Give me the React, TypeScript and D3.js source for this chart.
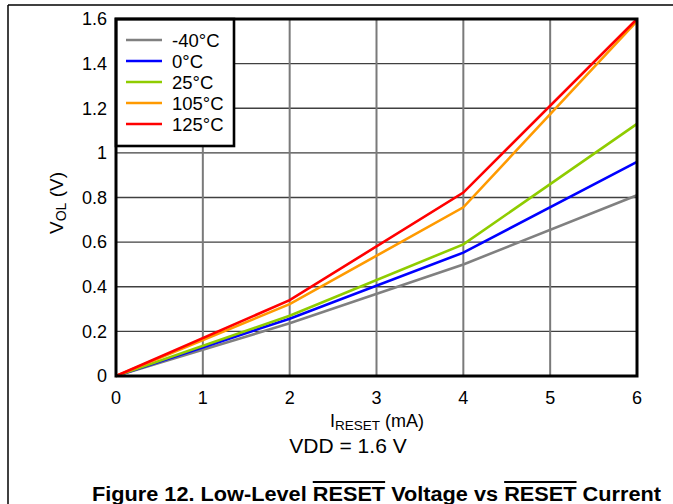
import React from "react";
import * as d3 from "d3";

const currents = [0, 2, 4, 6];
const seriesNames = ["-40°C", "0°C", "25°C", "105°C", "125°C"];
const seriesColors = ["#808080", "#0000ff", "#8fcc00", "#ff9a00", "#ff0000"];
const vM40 = [0, 0.236, 0.5, 0.81];
const v0 = [0, 0.257, 0.553, 0.96];
const v25 = [0, 0.27, 0.59, 1.13];
const v105 = [0, 0.322, 0.756, 1.59];
const v125 = [0, 0.34, 0.822, 1.6];
const seriesValues = [vM40, v0, v25, v105, v125];
const xTicks = [0, 1, 2, 3, 4, 5, 6];
const yTicks = [0, 0.2, 0.4, 0.6, 0.8, 1.0, 1.2, 1.4, 1.6];

const W = 673;
const H = 504;
const L = 116, R = 637, T = 19, B = 376;
const FONT = "'Liberation Sans', Arial, sans-serif";

export default function App() {
  const x = d3.scaleLinear().domain([0, 6]).range([L, R]);
  const y = d3.scaleLinear().domain([0, 1.6]).range([B, T]);
  const line = d3
    .line<number>()
    .x((_, i) => x(currents[i]))
    .y((d) => y(d));
  const fmt = (v: number) => d3.format("~g")(+v.toFixed(1));

  const legX = L, legY = T, legW = 118, legH = 127;

  return (
    <svg
      width={W}
      height={H}
      style={{ position: "absolute", left: 0, top: 0, background: "#fff" }}
      fontFamily={FONT}
    >
      <rect x={0} y={0} width={W} height={H} fill="#fff" />
      {/* outer frame */}
      <line x1={8} x2={W} y1={5} y2={5} stroke="#000" strokeWidth={1.5} />
      <line x1={8} x2={8} y1={5} y2={H} stroke="#000" strokeWidth={1.5} />

      {/* horizontal gridlines */}
      {yTicks.map((t) => (
        <line key={"h" + t} x1={L} x2={R} y1={y(t)} y2={y(t)} stroke="#404040" strokeWidth={1.4} />
      ))}
      {/* vertical gridlines */}
      {xTicks.map((t) => (
        <line key={"v" + t} x1={x(t)} x2={x(t)} y1={T} y2={B} stroke="#7a7a7a" strokeWidth={2} />
      ))}

      {/* series */}
      {seriesValues.map((vals, i) => (
        <path key={"s" + i} d={line(vals) || ""} fill="none" stroke={seriesColors[i]} strokeWidth={2.6} strokeLinejoin="miter" />
      ))}

      {/* legend */}
      <rect x={legX} y={legY} width={legW} height={legH} fill="#fff" stroke="#000" strokeWidth={2.6} />
      {seriesNames.map((n, i) => {
        const yy = 40 + i * 21;
        return (
          <g key={"l" + i}>
            <line x1={126} x2={162} y1={yy} y2={yy} stroke={seriesColors[i]} strokeWidth={2.6} />
            <text x={172} y={yy + 6.5} fontSize={18.5} fill="#000">{n}</text>
          </g>
        );
      })}

      {/* plot border */}
      <rect x={L} y={T} width={R - L} height={B - T} fill="none" stroke="#000" strokeWidth={3} />

      {/* y tick labels */}
      {yTicks.map((t) => (
        <text key={"yl" + t} x={107} y={y(t) + 6.3} textAnchor="end" fontSize={18} fill="#000">
          {fmt(t)}
        </text>
      ))}
      {/* x tick labels */}
      {xTicks.map((t) => (
        <text key={"xl" + t} x={x(t)} y={404} textAnchor="middle" fontSize={18} fill="#000">
          {t}
        </text>
      ))}

      {/* axis titles */}
      <text x={377} y={427} textAnchor="middle" fontSize={18} fill="#000">
        I<tspan fontSize={13.5} dy={3}>RESET</tspan>
        <tspan dy={-3}> (mA)</tspan>
      </text>
      <text transform="translate(63,203) rotate(-90)" textAnchor="middle" fontSize={19} fill="#000">
        V<tspan fontSize={14} dy={3}>OL</tspan>
        <tspan dy={-3}> (V)</tspan>
      </text>

      <text x={348} y={453} textAnchor="middle" fontSize={21} fill="#000">VDD = 1.6 V</text>

      <text x={92} y={501} fontSize={20} fontWeight="bold" fill="#000" textLength={569} lengthAdjust="spacingAndGlyphs">
        Figure 12. Low-Level <tspan style={{ textDecoration: "overline" }}>RESET</tspan> Voltage vs{" "}
        <tspan style={{ textDecoration: "overline" }}>RESET</tspan> Current
      </text>
    </svg>
  );
}
